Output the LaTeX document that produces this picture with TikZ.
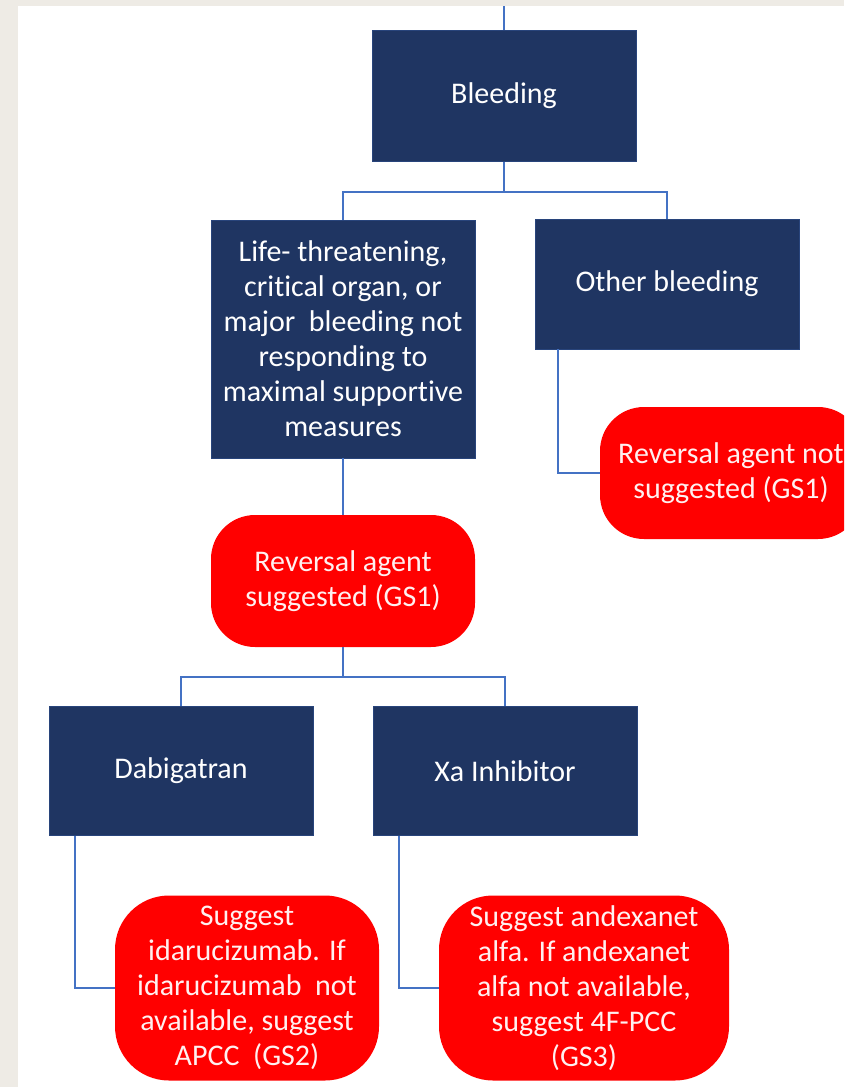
\documentclass[tikz,border=0pt]{standalone}
\usepackage{fontspec}
\setmainfont{Carlito}[Ligatures=NoCommon]
\usetikzlibrary{positioning}
\definecolor{navybox}{HTML}{1F3562}
\definecolor{alertred}{HTML}{FF0000}
\definecolor{linkblue}{HTML}{4472C4}
\definecolor{pagebeige}{HTML}{EEEBE5}

\begin{document}
\begin{tikzpicture}[x=1pt, y=-1pt, every node/.style={font=\fontsize{30}{35}\selectfont}]
    \tikzset{nb/.style={rectangle, fill=navybox, draw=navybox!75!linkblue, line width=0.8pt, text=white, align=center, minimum width=264pt, inner sep=0pt},
             rb/.style={rectangle, rounded corners=44pt, fill=alertred, text=white!94!red, align=center, inner sep=0pt},
             cn/.style={draw=linkblue, line width=1.9pt}}
    \fill[pagebeige] (0,0) rectangle (844,1087);
    \fill[white] (18,6) rectangle (844,1087);
    \clip (0,0) rectangle (844,1087);
    \node[nb, minimum height=131pt] (bleed) at (504,96) {Bleeding};
    \node[nb, minimum height=238pt] (life) at (343,339) {Life- threatening,\\critical organ, or\\major~ bleeding not\\responding to\\maximal supportive\\measures};
    \node[nb, minimum height=130pt] (other) at (667,284) {Other bleeding};
    \node[rb, minimum width=264pt, minimum height=132pt] (rev) at (343,581) {Reversal agent\\suggested (GS1)};
    \node[rb, minimum width=262pt, minimum height=132pt] (norev) at (731,473) {Reversal agent not\\suggested (GS1)};
    \node[nb, minimum height=129pt] (dabi) at (181,771) {Dabigatran};
    \node[nb, minimum height=129pt] (xa) at (505,771) {Xa Inhibitor};
    \node[rb, rounded corners=54pt, minimum width=264pt, minimum height=185pt] (ida) at (247,988) {Suggest\\idarucizumab. If\\idarucizumab~ not\\available, suggest\\APCC~ (GS2)};
    \node[rb, rounded corners=54pt, minimum width=290pt, minimum height=185pt] (andx) at (584,988) {Suggest andexanet\\alfa. If andexanet\\alfa not available,\\suggest 4F-PCC\\(GS3)};
    \coordinate (top) at (504,6);
    \draw[cn] (top) -- (bleed.north);
    \draw[cn] (bleed.south) -- ++(0,30) -| (life.north);
    \draw[cn] (bleed.south) -- ++(0,30) -| (other.north);
    \draw[cn] (life.south) -- (rev.north);
    \draw[cn] (other.south west) ++(23,0) |- (norev.west);
    \draw[cn] (rev.south) -- ++(0,30) -| (dabi.north);
    \draw[cn] (rev.south) -- ++(0,30) -| (xa.north);
    \draw[cn] (dabi.south west) ++(26,0) |- (ida.west);
    \draw[cn] (xa.south west) ++(26,0) |- (andx.west);
\end{tikzpicture}
\end{document}
